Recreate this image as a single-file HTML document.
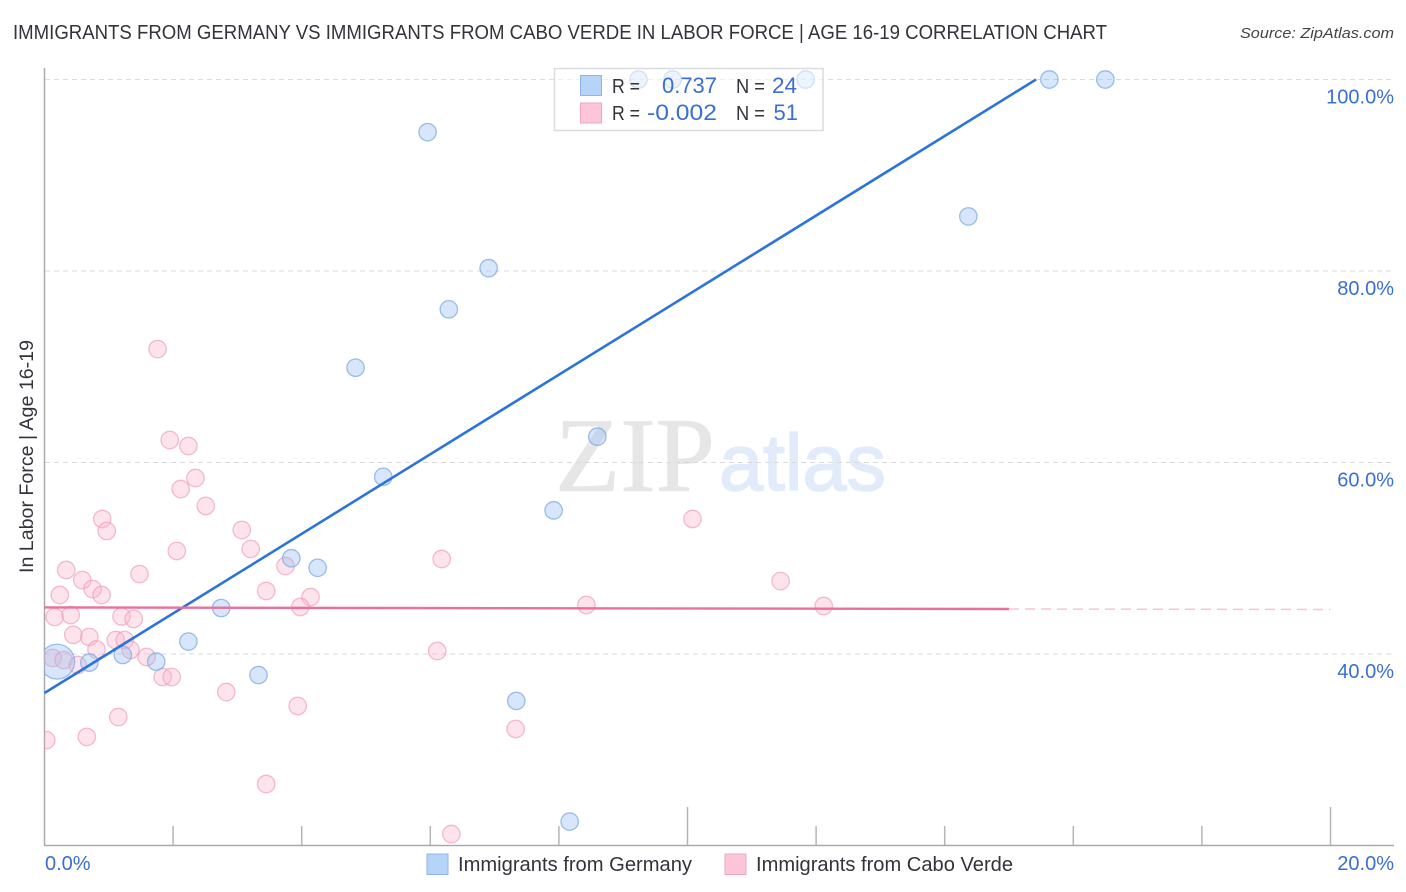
<!DOCTYPE html>
<html lang="en">
<head>
<meta charset="utf-8">
<title>Immigrants from Germany vs Immigrants from Cabo Verde Correlation Chart</title>
<style>
html,body{margin:0;padding:0;background:#fff;}
svg{display:block;}
text{font-family:"Liberation Sans",sans-serif;}
</style>
</head>
<body>
<svg id="chart" xmlns="http://www.w3.org/2000/svg" width="1406" height="892" viewBox="0 0 1406 892">
  <defs><clipPath id="plot-clip"><rect x="44.5" y="60" width="1360" height="786"></rect></clipPath></defs>
  <text x="13" y="39" font-size="20" fill="#33333b" textLength="1094" lengthAdjust="spacingAndGlyphs">IMMIGRANTS FROM GERMANY VS IMMIGRANTS FROM CABO VERDE IN LABOR FORCE | AGE 16-19 CORRELATION CHART</text>
  <text x="1394" y="38" font-size="15" font-style="italic" fill="#444" text-anchor="end" textLength="154" lengthAdjust="spacingAndGlyphs">Source: ZipAtlas.com</text>
  <g>
    <text x="555" y="491" style="font-family:'Liberation Serif',serif" font-size="106" fill="#e6e6e6" stroke="#e6e6e6" stroke-width="0.8" textLength="160" lengthAdjust="spacingAndGlyphs">ZIP</text>
    <text x="719" y="490" font-size="80" fill="#e2ebf9" stroke="#e2ebf9" stroke-width="1.6" textLength="167" lengthAdjust="spacingAndGlyphs">atlas</text>
  </g>
  <g id="grid"></g>
  <g id="axes"></g>
  <g id="pink-points" clip-path="url(#plot-clip)"></g>
  <g id="blue-points" clip-path="url(#plot-clip)"></g>
  <g id="trends"></g>
  <g id="labels"></g>
  <text transform="translate(33,573) rotate(-90)" font-size="19" fill="#33333b" textLength="233" lengthAdjust="spacingAndGlyphs">In Labor Force | Age 16-19</text>
  <g>
    <rect x="554.5" y="68.5" width="268.5" height="62" fill="#fff" fill-opacity="0.55" stroke="#dcdcdc" stroke-width="1.5"></rect>
    <rect x="580.5" y="75.5" width="21" height="20" fill="#b6d3f8" stroke="#8fb6ec"></rect>
    <rect x="580.5" y="103" width="21" height="20" fill="#fcc6d8" stroke="#f2a4bd"></rect>
    <text x="612" y="93" font-size="20" fill="#33333b" textLength="28" lengthAdjust="spacingAndGlyphs">R =</text>
    <text x="662" y="93" font-size="22" fill="#3a6fd0" textLength="55" lengthAdjust="spacingAndGlyphs">0.737</text>
    <text x="736" y="93" font-size="20" fill="#33333b" textLength="29" lengthAdjust="spacingAndGlyphs">N =</text>
    <text x="772" y="93" font-size="22" fill="#3a6fd0" textLength="25" lengthAdjust="spacingAndGlyphs">24</text>
    <text x="612" y="120" font-size="20" fill="#33333b" textLength="28" lengthAdjust="spacingAndGlyphs">R =</text>
    <text x="647" y="120" font-size="22" fill="#3a6fd0" textLength="70" lengthAdjust="spacingAndGlyphs">-0.002</text>
    <text x="736" y="120" font-size="20" fill="#33333b" textLength="29" lengthAdjust="spacingAndGlyphs">N =</text>
    <text x="798" y="120" font-size="22" fill="#3a6fd0" text-anchor="end">51</text>
  </g>
  <g>
    <rect x="427" y="854" width="21" height="20.5" fill="#b6d3f8" stroke="#8fb6ec"></rect>
    <text x="458" y="871" font-size="20" fill="#33333b" textLength="234" lengthAdjust="spacingAndGlyphs">Immigrants from Germany</text>
    <rect x="725" y="854" width="21" height="20.5" fill="#fcc6d8" stroke="#f2a4bd"></rect>
    <text x="756" y="871" font-size="20" fill="#33333b" textLength="257" lengthAdjust="spacingAndGlyphs">Immigrants from Cabo Verde</text>
  </g>
</svg>
<script>
var germanyX = [9.23,9.76,11.83,15.62,16.49,5.95,14.36,6.90,6.28,4.83,5.26,8.59,7.91,3.83,4.24,2.74,2.23,1.21,0.69,1.73,3.32,7.33,8.16,0.19];
var germanyY = [100,100,100,100,100,94.5,85.7,80.3,76.0,69.9,58.5,62.7,55.0,50.0,49.0,44.8,41.3,39.9,39.1,39.2,37.8,35.1,22.5,39.2];
var germanySizes = [1,1,1,1,1,1,1,1,1,1,1,1,1,1,1,1,1,1,1,1,1,1,1,2];
var caboVerdeX = [1.75,1.94,2.23,2.34,2.11,2.50,0.89,0.96,3.06,3.20,2.05,10.07,6.17,0.33,0.58,1.47,0.74,0.88,0.23,3.74,3.44,4.13,3.97,8.42,11.44,12.11,0.15,0.40,1.19,1.38,0.44,0.69,1.10,1.24,0.80,1.33,1.58,0.12,0.29,0.51,6.10,1.83,1.97,2.82,3.93,1.14,0.65,0.02,7.32,3.44,6.32];
var caboVerdeY = [71.85,62.35,61.72,58.38,57.23,55.46,54.10,52.85,52.95,50.97,50.76,54.10,49.92,48.77,47.72,48.35,46.79,46.16,46.16,49.19,46.58,45.95,44.91,45.12,47.62,45.01,43.86,44.07,43.92,43.66,42.0,41.78,41.46,41.46,40.47,40.42,39.69,39.58,39.37,38.85,40.31,37.6,37.6,36.03,34.57,33.42,31.34,31.0,32.17,26.42,21.2];
var germanyTrendX = [0,15.42];
var germanyTrendY = [35.93,100];
var caboTrendX = [0,15];
var caboTrendY = [44.86,44.7];
var caboDashX = [15,20];
var caboDashY = [44.7,44.65];
var yTicks = [100,80,60,40];
var yTickLabels = ["100.0%","80.0%","60.0%","40.0%"];
var xTicks = [0,2,4,6,8,10,12,14,16,18,20];
var xMajorTicks = [0,10,20];
var xEndLabels = ["0.0%","20.0%"];

var NS = 'http://www.w3.org/2000/svg';
function sx(v){ return 44.5 + v * 64.3; }
function sy(v){ return 79.5 + (100 - v) * 9.575; }
function px(v){ return sx(v) + 0.5; }
function mk(tag, attrs, parent){
  var el = document.createElementNS(NS, tag);
  for (var k in attrs) el.setAttribute(k, attrs[k]);
  parent.appendChild(el);
  return el;
}
var grid = document.getElementById('grid');
var axes = document.getElementById('axes');
var labels = document.getElementById('labels');
var trends = document.getElementById('trends');
var bluePts = document.getElementById('blue-points');
var pinkPts = document.getElementById('pink-points');

yTicks.forEach(function(v, i){
  var line = mk('line', {x1:45, x2:1394, y1:sy(v), y2:sy(v), stroke:'#dadada', 'stroke-width':1, 'stroke-dasharray':'5 4'}, grid);
  
  
  var t = mk('text', {x:1394, y:sy(v) + 24, 'font-size':20, fill:'#3a6fd0', 'text-anchor':'end'}, labels);
  t.textContent = yTickLabels[i];
  
  
});

var yAxis = mk('line', {x1:44.5, x2:44.5, y1:68, y2:845.5, stroke:'#aaa', 'stroke-width':1.5}, axes);


var xAxis = mk('line', {x1:44, x2:1394, y1:845.5, y2:845.5, stroke:'#aaa', 'stroke-width':1.5}, axes);


xTicks.forEach(function(v){
  var major = xMajorTicks.indexOf(v) >= 0;
  if (v === 0) return;
  var tick = mk('line', {x1:sx(v), x2:sx(v), y1:major ? 807 : 826, y2:845, stroke:'#b5b5b5', 'stroke-width':1.5}, axes);
  
  
});
var x0 = mk('text', {x:45, y:870, 'font-size':20, fill:'#3a6fd0'}, labels);
x0.textContent = xEndLabels[0];


var x1 = mk('text', {x:1394, y:870, 'font-size':20, fill:'#3a6fd0', 'text-anchor':'end'}, labels);
x1.textContent = xEndLabels[1];



caboVerdeX.forEach(function(v, i){
  var c = mk('circle', {cx:px(v), cy:sy(caboVerdeY[i]), r:8.7, fill:'#f9b4c9', 'fill-opacity':0.36, stroke:'#ef9fb8', 'stroke-opacity':0.7, 'stroke-width':1.3}, pinkPts);
  
  
});
germanyX.forEach(function(v, i){
  var c = mk('circle', {cx:px(v), cy:sy(germanyY[i]), r:8.7 * germanySizes[i], fill:'#96bdf2', 'fill-opacity':0.38, stroke:'#7ea8e4', 'stroke-opacity':0.75, 'stroke-width':1.3}, bluePts);
  
  
});

var lineBlue = mk('line', {x1:sx(germanyTrendX[0]), y1:sy(germanyTrendY[0]), x2:sx(germanyTrendX[1]), y2:sy(germanyTrendY[1]), stroke:'#2b74d9', 'stroke-width':2.6}, trends);


var linePink = mk('line', {x1:sx(caboTrendX[0]), y1:sy(caboTrendY[0]), x2:sx(caboTrendX[1]), y2:sy(caboTrendY[1]), stroke:'#ec6e9c', 'stroke-width':2.4}, trends);


var lineDash = mk('line', {x1:sx(caboDashX[0]), y1:sy(caboDashY[0]), x2:sx(caboDashX[1]), y2:sy(caboDashY[1]), stroke:'#f6c6d8', 'stroke-width':1.5, 'stroke-dasharray':'10 6'}, trends);


</script>
</body>
</html>
